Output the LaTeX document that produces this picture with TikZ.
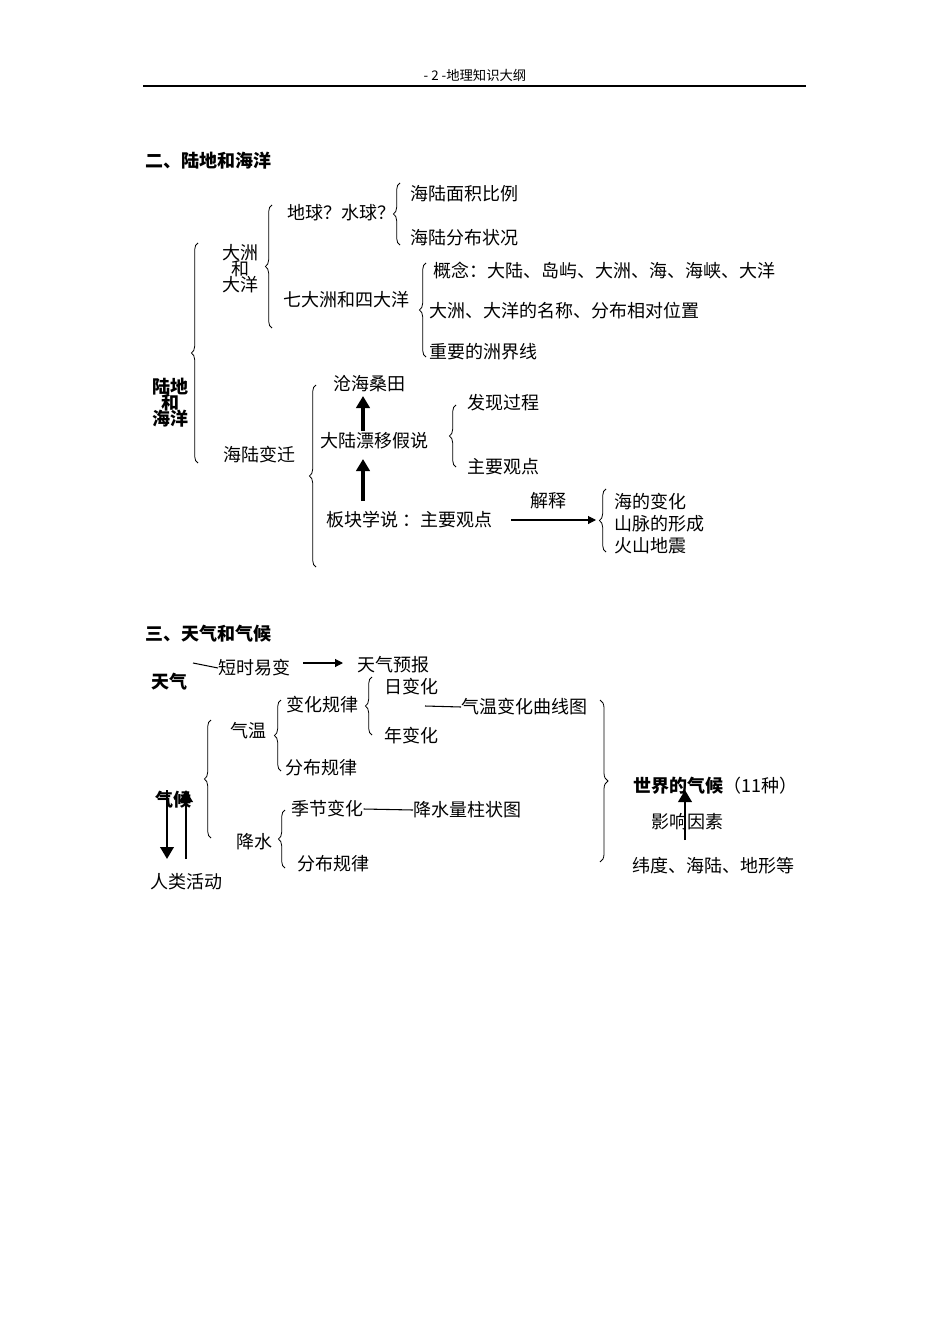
\documentclass[tikz,border=0pt]{standalone}
\usepackage{fontspec}
\setmainfont{Noto Sans CJK SC}
\usetikzlibrary{arrows.meta,decorations.pathreplacing}
\tikzset{
  txt/.style={inner sep=0pt,anchor=west,font=\fontsize{13.5}{15}\selectfont},
  bold/.style={txt,font=\fontsize{13.5}{15}\selectfont\bfseries},
  brc/.style={decorate,decoration={brace,amplitude=5pt},line width=0.6pt},
  rbrc/.style={decorate,decoration={brace,amplitude=6pt,mirror},line width=0.6pt},
  bigarrow/.style={line width=2.5pt,-{Triangle[length=9pt,width=10pt]}},
  thinarrow/.style={line width=0.8pt,-{Triangle[length=6pt,width=6pt]}},
  link/.style={line width=0.8pt}
}
\begin{document}
\begin{tikzpicture}[x=0.75pt,y=-0.75pt]
\useasboundingbox (0,0) rectangle (950,1344);
% header
\node[txt,anchor=center,font=\fontsize{10}{12}\selectfont] (head) at (475,75) {- 2 -地理知识大纲};
\draw[line width=0.8pt] (143,86) -- (806,86);

% part two
\node[bold] (t2) at (145,161) {二、陆地和海洋};
\node[bold,anchor=center,align=center] (land) at (170,403) {陆地\\[-3pt]和\\[-3pt]海洋};
\draw[brc] (198,463) -- (198,243);
\node[txt,anchor=center,align=center] (zhou) at (240,269) {大洲\\[-3pt]和\\[-3pt]大洋};
\draw[brc] (272,328) -- (272,205);
\node[txt] (earth) at (287,213) {地球？水球？};
\draw[brc] (400,245) -- (400,183);
\node[txt] (area) at (410,194) {海陆面积比例};
\node[txt] (dist) at (410,238) {海陆分布状况};
\node[txt] (seven) at (283,300) {七大洲和四大洋};
\draw[brc] (426,357) -- (426,263);
\node[txt] (concept) at (433,271) {概念：大陆、岛屿、大洲、海、海峡、大洋};
\node[txt] (names) at (429,311) {大洲、大洋的名称、分布相对位置};
\node[txt] (bound) at (429,352) {重要的洲界线};
\node[txt] (change) at (223,455) {海陆变迁};
\draw[brc] (316,567) -- (316,385);
\node[txt] (cang) at (333,384) {沧海桑田};
\node[txt] (drift) at (320,441) {大陆漂移假说};
\node[txt] (plate) at (326,520) {板块学说 ：主要观点};
\draw[bigarrow] (363,431) -- (363,396);
\draw[bigarrow] (363,501) -- (363,459);
\draw[brc] (456,467) -- (456,405);
\node[txt] (find) at (467,403) {发现过程};
\node[txt] (view) at (467,467) {主要观点};
\node[txt,anchor=center] (explain) at (548,501) {解释};
\coordinate (ex1) at (511,520);
\coordinate (ex2) at (596,520);
\draw[thinarrow] (ex1) -- (ex2);
\draw[brc] (606,552) -- (606,489);
\node[txt] (sea) at (614,502) {海的变化};
\node[txt] (mount) at (614,524) {山脉的形成};
\node[txt] (vol) at (614,546) {火山地震};

% part three
\node[bold] (t3) at (145,634) {三、天气和气候};
\node[bold] (weather) at (151,682) {天气};
\node[txt] (short) at (218,668) {短时易变};
\draw[link] (193,663) -- (short.west);
\node[txt] (fore) at (357,665) {天气预报};
\draw[thinarrow] (303,663) -- (343,663);
\node[txt] (rule) at (286,705) {变化规律};
\draw[brc] (372,735) -- (372,677);
\node[txt] (day) at (384,687) {日变化};
\node[txt] (year) at (384,736) {年变化};
\node[txt] (curve) at (461,707) {气温变化曲线图};
\draw[link] (425,706) -- (curve.west);
\node[txt] (temp) at (230,731) {气温};
\draw[brc] (281,771) -- (281,700);
\node[txt] (tdist) at (285,768) {分布规律};
\draw[brc] (211,838) -- (211,720);
\node[bold] (climate) at (155,800) {气候};
\node[txt] (rain) at (236,842) {降水};
\draw[brc] (285,868) -- (285,810);
\node[txt] (season) at (291,809) {季节变化};
\node[txt] (bar) at (413,810) {降水量柱状图};
\draw[link] (season.east) -- (bar.west);
\node[txt] (rdist) at (297,864) {分布规律};
\coordinate (dn1) at (167,790);
\coordinate (dn2) at (167,859);
\coordinate (up1) at (186,859);
\coordinate (up2) at (186,790);
\draw[bigarrow,line width=2pt] (dn1) -- (dn2);
\draw[bigarrow,line width=2pt] (up1) -- (up2);
\node[txt] (human) at (150,882) {人类活动};
\draw[rbrc] (600,862) -- (600,700);
\node[txt] (world) at (633,786) {\textbf{世界的气候}（11种）};
\node[txt] (factor) at (651,822) {影响因素};
\node[txt] (lat) at (632,866) {纬度、海陆、地形等};
\draw[bigarrow,line width=2pt] (685,840) -- (685,790);
\end{tikzpicture}
\end{document}
